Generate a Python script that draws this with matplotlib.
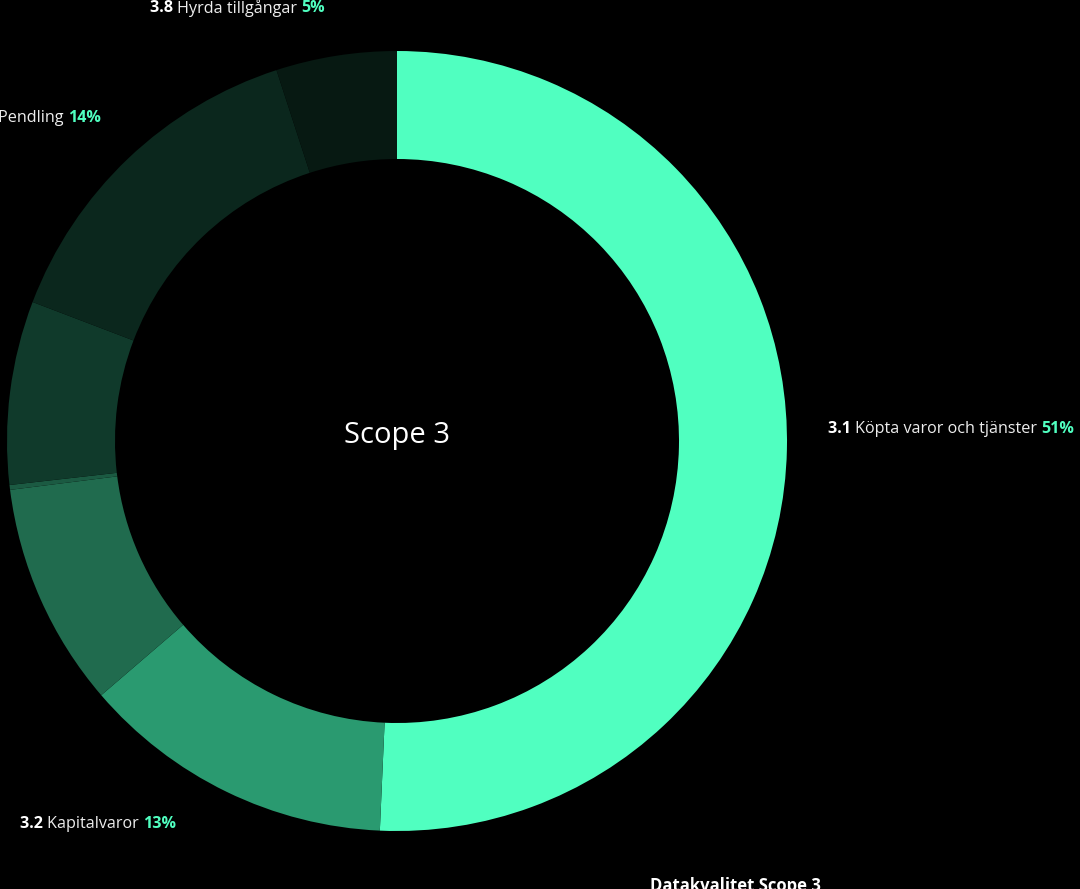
import matplotlib
matplotlib.use("Agg")
import matplotlib.pyplot as plt

# Scope 3-kategorier (medurs från toppen)
kategorier = ["3.1 Köpta varor och tjänster", "3.2 Kapitalvaror", "3.3 Bränsle", "3.4 Transport",
              "3.5 Avfall", "3.7 Pendling", "3.8 Hyrda tillgångar"]
andelar = [50.7, 13, 9.3, 0.2, 7.6, 14.2, 5]
farger = ["#50FFC0", "#2A9A70", "#206B4E", "#1B5A42", "#103A2B", "#0B271D", "#071912"]

plt.rcParams['font.family'] = ['Open Sans', 'DejaVu Sans']

fig = plt.figure(figsize=(10.8, 8.89), dpi=100, facecolor="black")
ax = fig.add_axes([0, 0, 1, 1])

H = 889
ax.pie(andelar, colors=farger, startangle=90, counterclock=False,
       center=(397, H - 441), radius=390, wedgeprops=dict(width=108, linewidth=0),
       frame=True)
ax.set_xlim(0, 1080)
ax.set_ylim(0, H)
ax.set_aspect("equal")
ax.axis("off")

ax.text(397, H - 436, "Scope 3", color="white", fontsize=21, ha="center", va="center")

fig.canvas.draw()
renderer = fig.canvas.get_renderer()


def etikett(x, y, nr, namn, pct, storlek=11.6, hoger=False):
    # skriv "nr" fet, namn normal, procent fet grön i följd
    delar = [(nr + " ", "bold", "white"), (namn + " ", "normal", "#EDEDED"), (pct, "bold", "#50FFC0")]
    texter = []
    xp = x
    for txt, vikt, farg in delar:
        t = ax.text(xp, H - y, txt, color=farg, fontsize=storlek, fontweight=vikt,
                    ha="left", va="center")
        bb = t.get_window_extent(renderer)
        texter.append((t, xp))
        xp += bb.width
    if hoger:
        skift = xp - x
        for t, x0 in texter:
            t.set_x(x0 - skift)


etikett(150, 8, "3.8", "Hyrda tillgångar", "5%")
etikett(101, 118, "3.7", "Pendling", "14%", hoger=True)
etikett(20, 824, "3.2", "Kapitalvaror", "13%")
etikett(828, 429, "3.1", "Köpta varor och tjänster", "51%")

ax.text(650, H - 886, "Datakvalitet Scope 3", color="white", fontsize=12, fontweight="bold",
        ha="left", va="center")

fig.savefig("out.png", dpi=100, facecolor="black")
